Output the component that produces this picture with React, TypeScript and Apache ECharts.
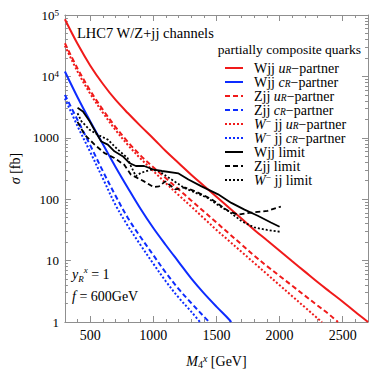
import React, { useEffect, useRef } from 'react';
import * as echarts from 'echarts';

const FONT = '"Liberation Serif", "DejaVu Serif", "Times New Roman", serif';
const RED = '#f01a1a';
const BLUE = '#0d2cff';
const BLACK = '#000000';
const GRAY = '#8f8f8f';

// ---- theory curves (mass in GeV, cross section in fb)
const wjjUrMass = [300, 400, 500, 600, 700, 800, 900, 1000, 1100, 1200, 1300, 1400, 1500, 1600, 1700, 1800, 1900, 2000, 2100, 2200, 2300, 2400, 2500, 2600, 2700];
const wjjUrSigma = [85100, 33900, 15100, 7590, 4170, 2510, 1550, 977, 603, 389, 251, 166, 110, 72.4, 47.9, 31.6, 21.4, 14.5, 9.77, 6.61, 4.47, 3.09, 2.14, 1.45, 1.0];

const zjjUrMass = [300, 400, 500, 600, 700, 800, 900, 1000, 1100, 1200, 1300, 1400, 1500, 1600, 1700, 1800, 1900, 2000, 2100, 2200, 2300, 2400, 2462];
const zjjUrSigma = [34700, 13500, 5890, 2880, 1510, 851, 513, 331, 219, 145, 95.5, 63.1, 41.7, 27.5, 18.2, 12.0, 8.13, 5.62, 3.89, 2.69, 1.86, 1.29, 1.0];

const wmUrMass = [300, 400, 500, 600, 700, 800, 900, 1000, 1100, 1200, 1300, 1400, 1500, 1600, 1700, 1800, 1900, 2000, 2100, 2200, 2300, 2336];
const wmUrSigma = [31600, 12000, 5250, 2570, 1350, 759, 457, 288, 182, 117, 75.9, 49.0, 31.6, 20.9, 13.8, 9.12, 6.03, 3.98, 2.63, 1.74, 1.15, 1.0];

const wjjCrMass = [300, 400, 500, 600, 700, 800, 900, 1000, 1100, 1200, 1300, 1400, 1500, 1600, 1617];
const wjjCrSigma = [12000, 4570, 1860, 794, 339, 151, 69.2, 33.9, 17.8, 9.55, 5.13, 2.95, 1.78, 1.10, 1.0];

const zjjCrMass = [300, 400, 500, 600, 700, 800, 900, 1000, 1100, 1200, 1300, 1400, 1442];
const zjjCrSigma = [5010, 1950, 759, 288, 115, 49.0, 24.0, 12.3, 6.31, 3.47, 2.04, 1.23, 1.0];

const wmCrMass = [300, 400, 500, 600, 700, 800, 900, 1000, 1100, 1200, 1300, 1369];
const wmCrSigma = [4370, 1550, 589, 219, 81.3, 36.3, 17.8, 8.91, 4.57, 2.51, 1.48, 1.0];

// ---- experimental limits
const wjjLimMass = [400, 443, 496, 548, 588, 640, 692, 757, 810, 862, 927, 1006, 1069, 1200, 1278, 1382, 1513, 1618, 1722, 1827, 1931, 2000];
const wjjLimSigma = [3090, 2690, 1860, 1200, 871, 776, 603, 501, 389, 347, 347, 302, 288, 263, 209, 162, 120, 87.1, 67.6, 53.7, 41.7, 35.5];

const zjjLimMass = [400, 457, 535, 614, 692, 770, 823, 927, 1000, 1045, 1095, 1174, 1251, 1330, 1461, 1592, 1670, 1775, 1905, 2010];
const zjjLimSigma = [1820, 1120, 776, 562, 468, 363, 251, 195, 158, 162, 195, 145, 155, 135, 100, 64.6, 56.2, 60.3, 64.6, 75.9];

const wmLimMass = [400, 431, 496, 561, 640, 718, 796, 823, 862, 901, 980, 1045, 1100, 1250, 1430, 1530, 1600, 1700, 1800, 1900, 2000];
const wmLimSigma = [2510, 1860, 1350, 1120, 933, 646, 468, 347, 237, 269, 302, 288, 240, 151, 105, 75.9, 63.1, 43.7, 34.7, 31.6, 29.5];

// ---- axes
const xMajorTicks = [500, 1000, 1500, 2000, 2500];
const yMinorTicks = [1, 10, 100, 1000, 10000].flatMap((d) => [2, 3, 4, 5, 6, 7, 8, 9].map((k) => k * d));

// ---- legend
const seriesNames = [
  'Wjj uR-partner', 'Wjj cR-partner', 'Zjj uR-partner', 'Zjj cR-partner',
  'W- jj uR-partner', 'W- jj cR-partner', 'Wjj limit', 'Zjj limit', 'W- jj limit',
];
const legendLabels = [
  '{t|Wjj }{i|u}{sub|R}{t|−partner}',
  '{t|Wjj }{i|c}{sub|R}{t|−partner}',
  '{t|Zjj }{i|u}{sub|R}{t|−partner}',
  '{t|Zjj }{i|c}{sub|R}{t|−partner}',
  '{i|W}{sup|−}{t| jj }{i|u}{sub|R}{t|−partner}',
  '{i|W}{sup|−}{t| jj }{i|c}{sub|R}{t|−partner}',
  '{t|Wjj limit}',
  '{t|Zjj limit}',
  '{i|W}{sup|−}{t| jj limit}',
];

const rich = {
  t: { fontFamily: FONT, fontSize: 14, lineHeight: 14, color: '#000' },
  i: { fontFamily: FONT, fontSize: 14, lineHeight: 14, fontStyle: 'italic', color: '#000' },
  sub: { fontFamily: FONT, fontSize: 9.5, lineHeight: 5, fontStyle: 'italic', verticalAlign: 'bottom', color: '#000' },
  sup: { fontFamily: FONT, fontSize: 9.5, lineHeight: 8, verticalAlign: 'top', color: '#000' },
};

function mk(name: string, mass: number[], sigma: number[], color: string, type: any, width: number, smooth: boolean) {
  return {
    name,
    type: 'line',
    xAxisIndex: 0,
    yAxisIndex: 0,
    data: mass.map((m, i) => [m, sigma[i]]),
    showSymbol: false,
    symbol: 'none',
    smooth: smooth ? 0.35 : false,
    clip: true,
    lineStyle: { color, width, type, cap: 'butt' },
    itemStyle: { color },
    emphasis: { disabled: true },
  };
}

const DASH = [5, 3];
const DOT = [2, 2];

const series = [
  mk(seriesNames[0], wjjUrMass, wjjUrSigma, RED, 'solid', 2, true),
  mk(seriesNames[1], wjjCrMass, wjjCrSigma, BLUE, 'solid', 2, true),
  mk(seriesNames[2], zjjUrMass, zjjUrSigma, RED, DASH, 2, true),
  mk(seriesNames[3], zjjCrMass, zjjCrSigma, BLUE, DASH, 2, true),
  mk(seriesNames[4], wmUrMass, wmUrSigma, RED, DOT, 2, true),
  mk(seriesNames[5], wmCrMass, wmCrSigma, BLUE, DOT, 2, true),
  mk(seriesNames[6], wjjLimMass, wjjLimSigma, BLACK, 'solid', 1.8, false),
  mk(seriesNames[7], zjjLimMass, zjjLimSigma, BLACK, DASH, 1.8, false),
  mk(seriesNames[8], wmLimMass, wmLimSigma, BLACK, DOT, 1.8, false),
];

const baseX = { type: 'value', min: 300, max: 2700, splitLine: { show: false } };
const baseY = { type: 'log', logBase: 10, min: 1, max: 100000, splitLine: { show: false } };
const lineOn = { show: true, lineStyle: { color: GRAY, width: 1 } };

const option: any = {
  animation: false,
  grid: { left: 62, top: 15, right: 6, bottom: 51, containLabel: false },
  xAxis: [
    {
      ...baseX,
      position: 'bottom',
      axisLine: lineOn,
      axisTick: { show: true, inside: true, length: 6, customValues: xMajorTicks, lineStyle: { color: GRAY } },
      axisLabel: {
        show: true,
        customValues: xMajorTicks,
        formatter: (v: number) => String(v),
        fontFamily: FONT,
        fontSize: 14,
        color: '#000',
        margin: 6,
      },
      name: '{i|M}{sub|4}{sup|x}{t| [GeV]}',
      nameLocation: 'middle',
      nameGap: 31,
      nameTextStyle: {
        rich: {
          t: { fontFamily: FONT, fontSize: 14, lineHeight: 16, color: '#000' },
          i: { fontFamily: FONT, fontSize: 14, lineHeight: 16, fontStyle: 'italic', color: '#000' },
          sub: { fontFamily: FONT, fontSize: 10, lineHeight: 6, verticalAlign: 'bottom', color: '#000' },
          sup: { fontFamily: FONT, fontSize: 10, lineHeight: 8, fontStyle: 'italic', verticalAlign: 'top', color: '#000' },
        },
      },
    },
    {
      ...baseX,
      position: 'bottom',
      interval: 100,
      axisLine: { show: false },
      axisTick: { show: true, inside: true, length: 3, lineStyle: { color: GRAY } },
      axisLabel: { show: false },
    },
    {
      ...baseX,
      position: 'top',
      axisLine: lineOn,
      axisTick: { show: true, inside: true, length: 6, customValues: xMajorTicks, lineStyle: { color: GRAY } },
      axisLabel: { show: false },
    },
    {
      ...baseX,
      position: 'top',
      interval: 100,
      axisLine: { show: false },
      axisTick: { show: true, inside: true, length: 3, lineStyle: { color: GRAY } },
      axisLabel: { show: false },
    },
  ],
  yAxis: [
    {
      ...baseY,
      position: 'left',
      axisLine: lineOn,
      axisTick: { show: true, inside: true, length: 6, lineStyle: { color: GRAY } },
      axisLabel: {
        show: true,
        margin: 6,
        formatter: (v: number) => {
          const e = Math.round(Math.log10(v));
          return e >= 4 ? `{b|10}{s|${e}}` : `{b|${v}}`;
        },
        rich: {
          b: { fontFamily: FONT, fontSize: 13, lineHeight: 14, color: '#000' },
          s: { fontFamily: FONT, fontSize: 9, lineHeight: 8, verticalAlign: 'top', color: '#000' },
        },
      },
      name: '{i|σ}{t| [fb]}',
      nameLocation: 'middle',
      nameGap: 31,
      nameTextStyle: {
        rich: {
          t: { fontFamily: FONT, fontSize: 14, color: '#000' },
          i: { fontFamily: FONT, fontSize: 14, fontStyle: 'italic', color: '#000' },
        },
      },
    },
    {
      ...baseY,
      position: 'left',
      axisLine: { show: false },
      axisTick: { show: true, inside: true, length: 3, customValues: yMinorTicks, lineStyle: { color: GRAY } },
      axisLabel: { show: false },
    },
    {
      ...baseY,
      position: 'right',
      axisLine: lineOn,
      axisTick: { show: true, inside: true, length: 6, lineStyle: { color: GRAY } },
      axisLabel: { show: false },
    },
    {
      ...baseY,
      position: 'right',
      axisLine: { show: false },
      axisTick: { show: true, inside: true, length: 3, customValues: yMinorTicks, lineStyle: { color: GRAY } },
      axisLabel: { show: false },
    },
  ],
  legend: {
    orient: 'vertical',
    left: 224,
    top: 61,
    padding: 0,
    itemWidth: 18,
    itemHeight: 14,
    itemGap: 0,
    selectedMode: false,
    data: seriesNames,
    itemStyle: { opacity: 0 },
    formatter: (n: string) => legendLabels[seriesNames.indexOf(n)],
    textStyle: { fontFamily: FONT, fontSize: 14, color: '#000', padding: [0, 0, 0, 6], rich },
  },
  graphic: [
    {
      type: 'text',
      left: 77,
      top: 25,
      style: { text: 'LHC7 W/Z+jj channels', fontFamily: FONT, fontSize: 14.5, fill: '#000' },
    },
    {
      type: 'text',
      right: 13,
      top: 42,
      style: { text: 'partially composite quarks', fontFamily: FONT, fontSize: 13.5, fill: '#000' },
    },
    {
      type: 'text',
      left: 72,
      top: 265,
      style: {
        text: '{i|y}{sub|R}{sup|x}{t| = 1}',
        rich: {
          t: { fontFamily: FONT, fontSize: 14, lineHeight: 18, fill: '#000' },
          i: { fontFamily: FONT, fontSize: 14, lineHeight: 18, fontStyle: 'italic', fill: '#000' },
          sub: { fontFamily: FONT, fontSize: 9, lineHeight: 7, fontStyle: 'italic', verticalAlign: 'bottom', fill: '#000' },
          sup: { fontFamily: FONT, fontSize: 9, lineHeight: 11, fontStyle: 'italic', verticalAlign: 'top', fill: '#000' },
        },
      },
    },
    {
      type: 'text',
      left: 72,
      top: 289,
      style: {
        text: '{i|f}{t| = 600GeV}',
        rich: {
          t: { fontFamily: FONT, fontSize: 14, lineHeight: 16, fill: '#000' },
          i: { fontFamily: FONT, fontSize: 14, lineHeight: 16, fontStyle: 'italic', fill: '#000' },
        },
      },
    },
  ],
  series,
};

export default function App() {
  const ref = useRef<HTMLDivElement>(null);
  useEffect(() => {
    const chart = echarts.init(ref.current!, null, { renderer: 'svg' });
    chart.setOption(option);
    return () => chart.dispose();
  }, []);
  return (
    <div
      ref={ref}
      style={{ position: 'fixed', left: 0, top: 0, width: 374, height: 374, background: '#fff' }}
    />
  );
}
